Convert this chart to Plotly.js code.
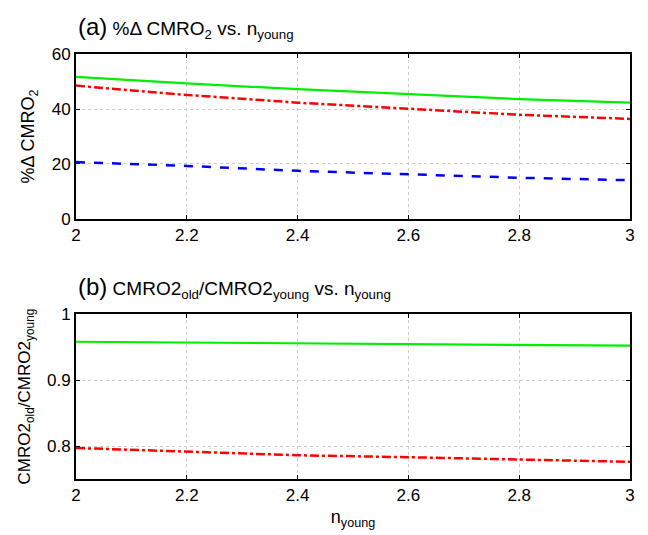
<!DOCTYPE html>
<html><head><meta charset="utf-8">
<script src="https://cdn.plot.ly/plotly-3.0.1.min.js"></script>
<style>body{margin:0;background:#fff}#chart{width:648px;height:535px}</style>
</head><body><div id="chart"></div>
<script>
const nYoung = [2.0, 2.2, 2.4, 2.6, 2.8, 3.0];
const dCmroGreen = [51.7, 49.3, 47.2, 45.3, 43.6, 42.3];
const dCmroRed = [48.5, 45.1, 42.3, 40.1, 37.9, 36.4];
const dCmroBlue = [20.7, 19.3, 17.5, 16.3, 15.0, 14.1];
const ratioGreen = [0.958, 0.957, 0.956, 0.955, 0.954, 0.952];
const ratioRed = [0.797, 0.792, 0.786, 0.783, 0.780, 0.776];
const xTicks = [2, 2.2, 2.4, 2.6, 2.8, 3];
const xTickText = ['2', '2.2', '2.4', '2.6', '2.8', '3'];
const yTicksTop = [0, 20, 40, 60];
const yTicksBottom = [0.8, 0.9, 1];
const yTickTextBottom = ['0.8', '0.9', '1'];

const FONT = 'Liberation Sans, Arial, Helvetica, sans-serif';
const traces = [
  {x: nYoung, y: dCmroGreen, xaxis: 'x', yaxis: 'y', mode: 'lines', line: {color: '#00ee00', width: 2.2}},
  {x: nYoung, y: dCmroRed, xaxis: 'x', yaxis: 'y', mode: 'lines', line: {color: '#ff0000', width: 2.5, dash: 'dashdot'}},
  {x: nYoung, y: dCmroBlue, xaxis: 'x', yaxis: 'y', mode: 'lines', line: {color: '#0000ff', width: 2.5, dash: 'dash'}},
  {x: nYoung, y: ratioGreen, xaxis: 'x2', yaxis: 'y2', mode: 'lines', line: {color: '#00ee00', width: 2.2}},
  {x: nYoung, y: ratioRed, xaxis: 'x2', yaxis: 'y2', mode: 'lines', line: {color: '#ff0000', width: 2.5, dash: 'dashdot'}}
];
const axBase = {
  showline: true, linecolor: '#000', linewidth: 2, mirror: 'ticks',
  ticks: 'inside', ticklen: 4, tickcolor: '#000', tickwidth: 1,
  showgrid: true, gridcolor: '#cccccc', griddash: 'dot', gridwidth: 1,
  zeroline: false, tickfont: {family: FONT, size: 17, color: '#000'}
};
const layout = {
  width: 648, height: 535, showlegend: false,
  paper_bgcolor: '#fff', plot_bgcolor: '#fff',
  margin: {l: 76, r: 18, t: 54, b: 56},
  font: {family: FONT, color: '#000'},
  xaxis: Object.assign({}, axBase, {domain: [0, 1], anchor: 'y', range: [2, 3], tickvals: xTicks, ticktext: xTickText}),
  yaxis: Object.assign({}, axBase, {domain: [0.6118, 1], anchor: 'x', range: [0, 60], tickvals: yTicksTop,
    title: {text: '%Δ CMRO<sub>2</sub>', font: {family: FONT, size: 18}, standoff: 12}}),
  xaxis2: Object.assign({}, axBase, {domain: [0, 1], anchor: 'y2', range: [2, 3], tickvals: xTicks, ticktext: xTickText,
    title: {text: 'n<sub>young</sub>', font: {family: FONT, size: 18}, standoff: 6}}),
  yaxis2: Object.assign({}, axBase, {domain: [0, 0.3882], anchor: 'x2', range: [0.75, 1], tickvals: yTicksBottom, ticktext: yTickTextBottom,
    title: {text: 'CMRO2<sub>old</sub>/CMRO2<sub>young</sub>', font: {family: FONT, size: 17}, standoff: 12}}),
  annotations: [
    {xref: 'paper', yref: 'paper', x: 0, y: 1, yshift: 10, xanchor: 'left', yanchor: 'bottom', showarrow: false,
     text: '<span style="font-size:24px">(a)</span> %Δ CMRO<sub>2</sub> vs. n<sub>young</sub>', font: {family: FONT, size: 19, color: '#000'}},
    {xref: 'paper', yref: 'paper', x: 0, y: 0.3882, yshift: 10, xanchor: 'left', yanchor: 'bottom', showarrow: false,
     text: '<span style="font-size:24px">(b)</span> CMRO2<sub>old</sub>/CMRO2<sub>young</sub> vs. n<sub>young</sub>', font: {family: FONT, size: 19, color: '#000'}}
  ]
};
Plotly.newPlot('chart', traces, layout, {displayModeBar: false, staticPlot: true});
</script></body></html>
